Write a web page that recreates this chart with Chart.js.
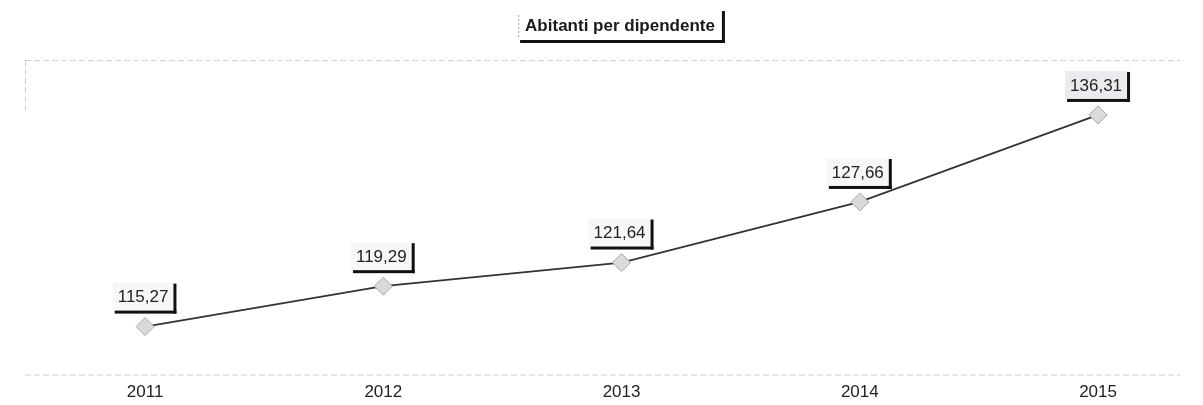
<!DOCTYPE html>
<html><head><meta charset="utf-8">
<script src="https://cdn.jsdelivr.net/npm/chart.js@4/dist/chart.umd.min.js"></script>
<style>html,body{margin:0;padding:0;background:#fff}#wrap{width:1203px;height:405px}</style>
</head><body><div id="wrap"><canvas id="c" width="1203" height="405"></canvas></div>
<script>
const titleText = 'Abitanti per dipendente';
const categories = ['2011','2012','2013','2014','2015'];
const values = [115.27, 119.29, 121.64, 127.66, 136.31];
const tickLabels = ['2011','2012','2013','2014','2015'];

const fmt = v => v.toFixed(2).replace('.', ',');

const boxPlugin = {
  id: 'boxes',
  afterDatasetsDraw(chart) {
    const ctx = chart.ctx;
    const ca = chart.chartArea;
    ctx.save();
    // faint plot-area borders
    ctx.strokeStyle = 'rgba(150,150,150,0.45)';
    ctx.lineWidth = 1;
    ctx.setLineDash([6, 3]);
    ctx.beginPath();
    ctx.moveTo(ca.left, ca.top + 0.5); ctx.lineTo(ca.right, ca.top + 0.5);
    ctx.moveTo(ca.left, ca.bottom + 0.5); ctx.lineTo(ca.right, ca.bottom + 0.5);
    ctx.moveTo(ca.left + 0.5, ca.top); ctx.lineTo(ca.left + 0.5, ca.top + 50);
    ctx.stroke();
    ctx.setLineDash([]);

    // data labels
    const meta = chart.getDatasetMeta(0);
    ctx.font = '17px "Liberation Sans", Arial, sans-serif';
    ctx.textAlign = 'center';
    ctx.textBaseline = 'middle';
    meta.data.forEach((pt, i) => {
      const t = fmt(values[i]);
      const w = ctx.measureText(t).width + 10;
      const h = 28;
      const cx = pt.x - 2, cy = pt.y - 30;
      const x0 = cx - w / 2, y0 = cy - h / 2;
      ctx.fillStyle = i === 4 ? '#ebebef' : '#f7f7f7';
      ctx.fillRect(x0, y0, w, h);
      ctx.fillStyle = '#111';
      ctx.fillRect(x0 + w, y0 + 1, 3, h + 2);
      ctx.fillRect(x0 + 2, y0 + h, w + 1, 3);
      ctx.fillStyle = '#222';
      ctx.fillText(t, cx, cy + 1);
    });

    // title box
    ctx.font = 'bold 17px "Liberation Sans", Arial, sans-serif';
    const tw = ctx.measureText(titleText).width + 14;
    const tcx = 620, tcy = 26;
    const tx0 = tcx - tw / 2, ty0 = 11;
    ctx.fillStyle = '#fff';
    ctx.fillRect(tx0, ty0, tw, 30);
    ctx.strokeStyle = 'rgba(120,120,120,0.7)';
    ctx.setLineDash([2, 2]);
    ctx.beginPath(); ctx.moveTo(tx0 + 0.5, ty0 + 4); ctx.lineTo(tx0 + 0.5, ty0 + 28); ctx.stroke();
    ctx.setLineDash([]);
    ctx.fillStyle = '#111';
    ctx.fillRect(tx0 + tw, ty0, 3, 32);
    ctx.fillRect(tx0 + 2, ty0 + 29, tw + 1, 3);
    ctx.fillStyle = '#1a1a1a';
    ctx.fillText(titleText, tcx, tcy);
    ctx.restore();
  }
};

new Chart(document.getElementById('c'), {
  type: 'line',
  data: {
    datasets: [{
      data: categories.map((c, i) => ({ x: Number(c), y: values[i] })),
      borderColor: '#333',
      borderWidth: 1.8,
      tension: 0,
      pointStyle: 'rectRot',
      pointRadius: 9,
      pointBackgroundColor: '#dadadc',
      pointBorderColor: '#a8a8aa',
      pointBorderWidth: 1
    }]
  },
  options: {
    responsive: false,
    animation: false,
    events: [],
    layout: { padding: { top: 60, left: 25, right: 23, bottom: 2 } },
    plugins: { legend: { display: false }, title: { display: false }, tooltip: { enabled: false } },
    scales: {
      x: {
        type: 'linear',
        min: 2010.496,
        max: 2015.344,
        grid: { display: false },
        border: { display: false },
        afterBuildTicks: s => { s.ticks = tickLabels.map(v => ({ value: Number(v) })); },
        ticks: {
          padding: 0,
          color: '#222',
          font: { size: 17, family: '"Liberation Sans", Arial, sans-serif' },
          callback: v => String(v)
        }
      },
      y: {
        display: false,
        min: 110.5,
        max: 141.77
      }
    }
  },
  plugins: [boxPlugin]
});
</script>
</body></html>
